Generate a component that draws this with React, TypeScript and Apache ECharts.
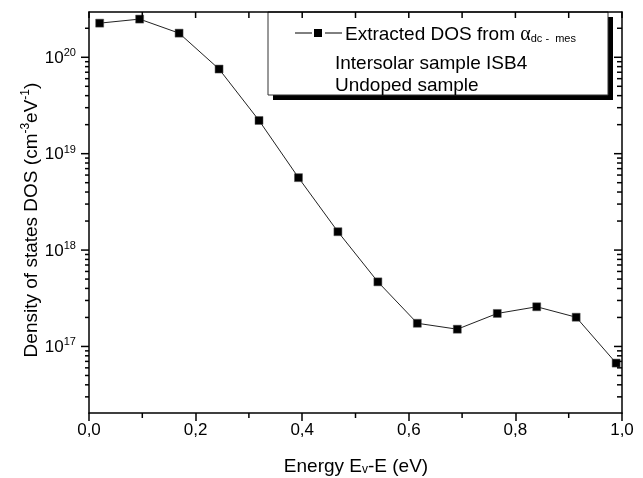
import React, { useEffect, useRef } from "react";
import * as echarts from "echarts";

const energyValues = [0.020, 0.095, 0.169, 0.244, 0.319, 0.393, 0.467, 0.542, 0.616, 0.691, 0.766, 0.840, 0.914, 0.989];
const dosValues = [2.26e20, 2.49e20, 1.78e20, 7.55e19, 2.21e19, 5.64e18, 1.55e18, 4.68e17, 1.74e17, 1.51e17, 2.20e17, 2.58e17, 2.01e17, 6.72e16];
const yDecadeExponents = [17, 18, 19, 20];
const yMinorMultipliers = [2, 3, 4, 5, 6, 7, 8, 9];
const yMinorDecadeExponents = [16, 17, 18, 19, 20];
const xTickValues = [0, 0.1, 0.2, 0.3, 0.4, 0.5, 0.6, 0.7, 0.8, 0.9, 1.0];
const xMinorTickValues = [0.1, 0.3, 0.5, 0.7, 0.9];
const yMin = 2.04e16;
const yMax = 2.95e20;
const xMin = 0;
const xMax = 1;

const FONT = "'Liberation Sans', Arial, sans-serif";
const BLACK = "#000";

const mkLine = () => ({ show: true, onZero: false, lineStyle: { color: BLACK, width: 1.5 } });

export default function App() {
  const ref = useRef<HTMLDivElement>(null);
  useEffect(() => {
    if (!ref.current) return;
    const chart = echarts.init(ref.current, undefined, { renderer: "svg" });
    const lMin = Math.log10(yMin);
    const lMax = Math.log10(yMax);
    const yTickData: number[][] = [];
    yDecadeExponents.forEach((e) => yTickData.push([xMin, e, 1]));
    yMinorDecadeExponents.forEach((e) =>
      yMinorMultipliers.forEach((m) => {
        const v = e + Math.log10(m);
        if (v >= lMin && v <= lMax) yTickData.push([xMin, v, 0]);
      })
    );
    const topTickData = xTickValues.map((x) => [x, lMax]);
    const bottomMinorData = xMinorTickValues.map((x) => [x, lMin]);
    const tickStyle = { stroke: BLACK, lineWidth: 1.5 };

    const option: any = {
      animation: false,
      grid: { left: 89, right: 21, top: 12, bottom: 65, containLabel: false },
      xAxis: [
        {
          type: "value",
          min: xMin,
          max: xMax,
          interval: 0.2,
          position: "bottom",
          axisLine: mkLine(),
          splitLine: { show: false },
          axisTick: { show: true, inside: false, length: 8, lineStyle: { color: BLACK, width: 1.5 } },
          axisLabel: {
            color: BLACK,
            fontFamily: FONT,
            fontSize: 17,
            margin: 8,
            formatter: (v: number) => v.toFixed(1).replace(".", ","),
          },
        },
        {
          type: "value",
          min: xMin,
          max: xMax,
          interval: 0.1,
          position: "top",
          axisLine: mkLine(),
          splitLine: { show: false },
          axisTick: { show: false },
          axisLabel: { show: false },
        },
      ],
      yAxis: [
        {
          type: "value",
          min: lMin,
          max: lMax,
          position: "left",
          axisLine: mkLine(),
          splitLine: { show: false },
          axisTick: { show: false },
          axisLabel: {
            show: true,
            customValues: yDecadeExponents,
            margin: 13,
            color: BLACK,
            fontFamily: FONT,
            formatter: (v: number) => `{b|10}{s|${Math.round(v)}}`,
            rich: {
              b: { fontSize: 17, fontFamily: FONT, color: BLACK },
              s: { fontSize: 11, fontFamily: FONT, color: BLACK, padding: [0, 0, 10, 0] },
            },
          },
        },
        {
          type: "value",
          min: lMin,
          max: lMax,
          position: "right",
          axisLine: mkLine(),
          splitLine: { show: false },
          axisTick: { show: false },
          axisLabel: { show: false },
        },
      ],
      series: [
        {
          type: "line",
          xAxisIndex: 0,
          yAxisIndex: 0,
          data: energyValues.map((x, i) => [x, Math.log10(dosValues[i])]),
          symbol: "rect",
          symbolSize: 8,
          showSymbol: true,
          lineStyle: { color: "#222", width: 1 },
          itemStyle: { color: BLACK, borderColor: "#555", borderWidth: 0.5 },
          z: 3,
        },
        {
          type: "custom",
          xAxisIndex: 0,
          yAxisIndex: 0,
          silent: true,
          clip: false,
          z: 4,
          data: yTickData,
          renderItem: (_p: any, api: any) => {
            const v = api.value(1);
            const major = api.value(2) === 1;
            const pl = api.coord([xMin, v]);
            const pr = api.coord([xMax, v]);
            const lenL = major ? 8 : 4;
            const lenR = major ? 8 : 5;
            return {
              type: "group",
              children: [
                { type: "line", shape: { x1: pl[0] - lenL, y1: pl[1], x2: pl[0], y2: pl[1] }, style: tickStyle },
                { type: "line", shape: { x1: pr[0] - lenR, y1: pr[1], x2: pr[0], y2: pr[1] }, style: tickStyle },
              ],
            };
          },
        },
        {
          type: "custom",
          xAxisIndex: 0,
          yAxisIndex: 0,
          silent: true,
          clip: false,
          z: 4,
          data: topTickData,
          renderItem: (_p: any, api: any) => {
            const p = api.coord([api.value(0), api.value(1)]);
            return { type: "line", shape: { x1: p[0], y1: p[1], x2: p[0], y2: p[1] + 6 }, style: tickStyle };
          },
        },
        {
          type: "custom",
          xAxisIndex: 0,
          yAxisIndex: 0,
          silent: true,
          clip: false,
          z: 4,
          data: bottomMinorData,
          renderItem: (_p: any, api: any) => {
            const p = api.coord([api.value(0), api.value(1)]);
            return { type: "line", shape: { x1: p[0], y1: p[1], x2: p[0], y2: p[1] + 5 }, style: tickStyle };
          },
        },
      ],
      graphic: [
        {
          type: "text",
          x: 30,
          y: 220,
          rotation: Math.PI / 2,
          style: {
            text: "{a|Density of states DOS (cm}{s|-3}{a|eV}{s|-1}{a|)}",
            x: 0,
            y: 0,
            align: "center",
            verticalAlign: "middle",
            rich: {
              a: { fontSize: 19, fontFamily: FONT, fill: BLACK },
              s: { fontSize: 12, fontFamily: FONT, fill: BLACK, padding: [0, 0, 10, 0] },
            },
          },
        },
        {
          type: "text",
          x: 356,
          y: 465,
          style: {
            text: "{a|Energy E}{sub|v}{a|-E (eV)}",
            x: 0,
            y: 0,
            align: "center",
            verticalAlign: "middle",
            rich: {
              a: { fontSize: 19, fontFamily: FONT, fill: BLACK },
              sub: { fontSize: 12, fontFamily: FONT, fill: BLACK, padding: [8, 0, 0, 0] },
            },
          },
        },
        {
          type: "group",
          z: 10,
          children: [
            { type: "rect", shape: { x: 273, y: 17, width: 340, height: 83 }, style: { fill: BLACK } },
            { type: "rect", shape: { x: 268, y: 12, width: 340, height: 83 }, style: { fill: "#fff", stroke: "#333", lineWidth: 1 } },
            { type: "line", shape: { x1: 295, y1: 33, x2: 312, y2: 33 }, style: { stroke: BLACK, lineWidth: 1 } },
            { type: "line", shape: { x1: 325, y1: 33, x2: 342, y2: 33 }, style: { stroke: BLACK, lineWidth: 1 } },
            { type: "rect", shape: { x: 314, y: 29, width: 8, height: 8 }, style: { fill: BLACK } },
            {
              type: "text",
              x: 345,
              y: 33,
              style: {
                text: "{a|Extracted DOS from }{g|α}{sub|dc -  mes}",
                x: 0,
                y: 0,
                align: "left",
                verticalAlign: "middle",
                rich: {
                  a: { fontSize: 19, fontFamily: FONT, fill: BLACK },
                  g: { fontSize: 20, fontFamily: "'Liberation Serif', serif", fill: BLACK },
                  sub: { fontSize: 11, fontFamily: FONT, fill: BLACK, padding: [10, 0, 0, 0] },
                },
              },
            },
            {
              type: "text",
              x: 335,
              y: 62,
              style: { text: "Intersolar sample ISB4", x: 0, y: 0, align: "left", verticalAlign: "middle", font: `19px ${FONT}`, fill: BLACK },
            },
            {
              type: "text",
              x: 335,
              y: 84,
              style: { text: "Undoped sample", x: 0, y: 0, align: "left", verticalAlign: "middle", font: `19px ${FONT}`, fill: BLACK },
            },
          ],
        },
      ],
    };
    chart.setOption(option);
    return () => chart.dispose();
  }, []);
  return <div ref={ref} style={{ position: "fixed", left: 0, top: 0, width: 643, height: 478 }} />;
}
